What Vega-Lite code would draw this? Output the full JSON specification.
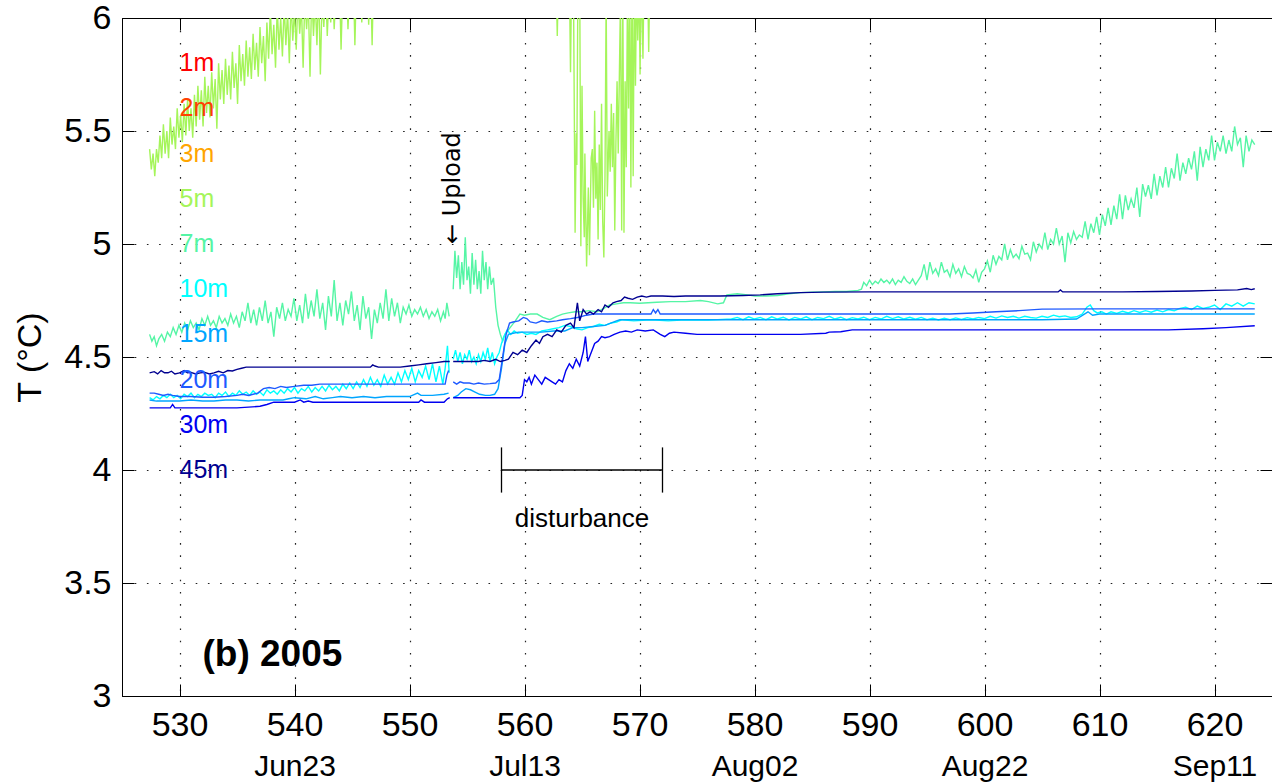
{
  "$schema": "https://vega.github.io/schema/vega-lite/v6.json",
  "width": 1150,
  "height": 678,
  "autosize": {"type": "none"},
  "padding": {"left": 122, "top": 18, "right": 0, "bottom": 86},
  "background": "white",
  "config": {
    "font": "Liberation Sans",
    "view": {"stroke": "black", "strokeWidth": 1}
  },
  "datasets": {
    "m5": [
      {"day":527.4,"temp":5.42},{"day":527.55,"temp":5.33},{"day":527.7,"temp":5.40},{"day":527.85,"temp":5.30},{"day":528.0,"temp":5.42},{"day":528.15,"temp":5.36},{"day":528.3,"temp":5.48},{"day":528.45,"temp":5.38},{"day":528.6,"temp":5.53},{"day":528.75,"temp":5.40},{"day":528.9,"temp":5.50},{"day":529.05,"temp":5.38},{"day":529.2,"temp":5.56},{"day":529.35,"temp":5.44},{"day":529.5,"temp":5.52},{"day":529.65,"temp":5.42},{"day":529.8,"temp":5.60},{"day":529.95,"temp":5.47},{"day":530.1,"temp":5.57},{"day":530.25,"temp":5.45},{"day":530.4,"temp":5.62},{"day":530.55,"temp":5.48},{"day":530.7,"temp":5.64},{"day":530.85,"temp":5.50},{"day":531.0,"temp":5.60},{"day":531.15,"temp":5.47},{"day":531.3,"temp":5.66},{"day":531.45,"temp":5.52},{"day":531.6,"temp":5.70},{"day":531.75,"temp":5.55},{"day":531.9,"temp":5.68},{"day":532.05,"temp":5.52},{"day":532.2,"temp":5.74},{"day":532.35,"temp":5.58},{"day":532.5,"temp":5.70},{"day":532.65,"temp":5.56},{"day":532.8,"temp":5.76},{"day":532.95,"temp":5.60},{"day":533.1,"temp":5.73},{"day":533.25,"temp":5.51},{"day":533.4,"temp":5.80},{"day":533.55,"temp":5.64},{"day":533.7,"temp":5.77},{"day":533.85,"temp":5.62},{"day":534.0,"temp":5.82},{"day":534.15,"temp":5.66},{"day":534.3,"temp":5.79},{"day":534.45,"temp":5.64},{"day":534.6,"temp":5.85},{"day":534.75,"temp":5.69},{"day":534.9,"temp":5.80},{"day":535.05,"temp":5.62},{"day":535.2,"temp":5.88},{"day":535.35,"temp":5.72},{"day":535.5,"temp":5.84},{"day":535.65,"temp":5.70},{"day":535.8,"temp":5.90},{"day":535.95,"temp":5.74},{"day":536.1,"temp":5.87},{"day":536.25,"temp":5.73},{"day":536.4,"temp":5.93},{"day":536.55,"temp":5.77},{"day":536.7,"temp":5.89},{"day":536.85,"temp":5.74},{"day":537.0,"temp":5.96},{"day":537.15,"temp":5.80},{"day":537.3,"temp":5.92},{"day":537.45,"temp":5.72},{"day":537.6,"temp":5.98},{"day":537.75,"temp":5.82},{"day":537.9,"temp":6.04},{"day":538.05,"temp":5.84},{"day":538.2,"temp":5.97},{"day":538.35,"temp":5.78},{"day":538.5,"temp":6.05},{"day":538.65,"temp":5.86},{"day":538.8,"temp":6.0},{"day":538.95,"temp":5.83},{"day":539.1,"temp":6.06},{"day":539.25,"temp":5.88},{"day":539.4,"temp":6.03},{"day":539.55,"temp":5.80},{"day":539.7,"temp":6.08},{"day":539.85,"temp":5.90},{"day":540.0,"temp":6.04},{"day":540.15,"temp":5.86},{"day":540.3,"temp":6.1},{"day":540.45,"temp":5.93},{"day":540.6,"temp":6.06},{"day":540.75,"temp":5.78},{"day":540.9,"temp":6.1},{"day":541.05,"temp":5.95},{"day":541.2,"temp":6.08},{"day":541.35,"temp":5.74},{"day":541.5,"temp":6.12},{"day":541.65,"temp":5.92},{"day":541.8,"temp":6.08},{"day":541.95,"temp":5.88},{"day":542.1,"temp":6.14},{"day":542.25,"temp":5.75},{"day":542.4,"temp":6.1},{"day":542.55,"temp":5.96},{"day":542.7,"temp":6.15},{"day":542.85,"temp":5.92},{"day":543.0,"temp":6.12},{"day":543.15,"temp":5.98},{"day":543.3,"temp":6.16},{"day":543.45,"temp":5.95},{"day":543.6,"temp":6.12},{"day":543.75,"temp":6.0},{"day":543.9,"temp":6.18},{"day":544.05,"temp":5.86},{"day":544.2,"temp":6.15},{"day":544.35,"temp":6.02},{"day":544.5,"temp":6.2},{"day":544.65,"temp":5.95},{"day":544.8,"temp":6.16},{"day":544.95,"temp":6.04},{"day":545.1,"temp":6.22},{"day":545.25,"temp":5.88},{"day":545.4,"temp":6.18},{"day":545.55,"temp":6.05},{"day":545.7,"temp":6.24},{"day":545.85,"temp":5.98},{"day":546.0,"temp":6.2},{"day":546.15,"temp":6.08},{"day":546.3,"temp":6.26},{"day":546.45,"temp":5.97},{"day":546.6,"temp":6.22},{"day":546.75,"temp":5.88},{"day":546.9,"temp":6.25},{"day":547.05,"temp":6.1},{"day":547.2,"temp":6.3},{"day":548.0,"temp":6.4},
      {"day":562.7,"temp":6.3},{"day":562.85,"temp":5.92},{"day":563.0,"temp":6.3},{"day":563.9,"temp":6.2},{"day":564.0,"temp":5.76},{"day":564.1,"temp":6.2},{"day":564.25,"temp":6.2},{"day":564.4,"temp":5.05},{"day":564.5,"temp":5.49},{"day":564.55,"temp":5.35},{"day":564.65,"temp":6.2},{"day":564.8,"temp":6.2},{"day":564.9,"temp":4.99},{"day":565.0,"temp":5.7},{"day":565.1,"temp":5.2},{"day":565.2,"temp":5.03},{"day":565.25,"temp":5.40},{"day":565.4,"temp":4.9},{"day":565.55,"temp":5.25},{"day":565.65,"temp":4.95},{"day":565.8,"temp":5.38},{"day":565.9,"temp":5.42},{"day":566.0,"temp":5.16},{"day":566.1,"temp":5.59},{"day":566.2,"temp":5.2},{"day":566.3,"temp":5.36},{"day":566.4,"temp":5.02},{"day":566.5,"temp":5.44},{"day":566.6,"temp":5.15},{"day":566.7,"temp":5.62},{"day":566.8,"temp":5.1},{"day":566.9,"temp":4.94},{"day":567.0,"temp":5.3},{"day":567.1,"temp":6.1},{"day":567.2,"temp":5.21},{"day":567.35,"temp":5.5},{"day":567.45,"temp":5.32},{"day":567.55,"temp":5.62},{"day":567.65,"temp":5.34},{"day":567.75,"temp":5.58},{"day":567.85,"temp":5.06},{"day":567.95,"temp":5.45},{"day":568.05,"temp":5.72},{"day":568.15,"temp":5.4},{"day":568.25,"temp":5.75},{"day":568.35,"temp":6.1},{"day":568.45,"temp":5.06},{"day":568.55,"temp":6.1},{"day":568.65,"temp":5.05},{"day":568.75,"temp":5.72},{"day":568.85,"temp":5.34},{"day":568.95,"temp":6.1},{"day":569.05,"temp":5.6},{"day":569.15,"temp":6.2},{"day":569.25,"temp":5.25},{"day":569.35,"temp":6.2},{"day":569.45,"temp":5.3},{"day":569.55,"temp":6.2},{"day":569.65,"temp":5.7},{"day":569.75,"temp":6.2},{"day":569.85,"temp":5.9},{"day":569.95,"temp":6.2},{"day":570.05,"temp":5.75},{"day":570.15,"temp":6.2},{"day":570.3,"temp":5.82},{"day":570.4,"temp":6.2},{"day":570.7,"temp":6.2},{"day":570.8,"temp":5.85},{"day":570.9,"temp":6.2},{"day":571.2,"temp":6.3}
    ],
    "m7": [
      {"day":527.4,"temp":4.60},{"day":527.6,"temp":4.57},{"day":527.8,"temp":4.59},{"day":528.0,"temp":4.55},{"day":528.2,"temp":4.58},{"day":528.45,"temp":4.60},{"day":528.7,"temp":4.57},{"day":528.95,"temp":4.61},{"day":529.2,"temp":4.59},{"day":529.45,"temp":4.63},{"day":529.7,"temp":4.60},{"day":529.95,"temp":4.64},{"day":530.2,"temp":4.61},{"day":530.45,"temp":4.65},{"day":530.7,"temp":4.62},{"day":530.95,"temp":4.66},{"day":531.2,"temp":4.63},{"day":531.45,"temp":4.65},{"day":531.7,"temp":4.62},{"day":531.95,"temp":4.67},{"day":532.2,"temp":4.64},{"day":532.45,"temp":4.68},{"day":532.7,"temp":4.64},{"day":532.95,"temp":4.66},{"day":533.2,"temp":4.63},{"day":533.45,"temp":4.68},{"day":533.7,"temp":4.65},{"day":533.95,"temp":4.67},{"day":534.2,"temp":4.64},{"day":534.45,"temp":4.69},{"day":534.7,"temp":4.65},{"day":534.95,"temp":4.68},{"day":535.2,"temp":4.63},{"day":535.45,"temp":4.70},{"day":535.7,"temp":4.66},{"day":535.95,"temp":4.74},{"day":536.2,"temp":4.65},{"day":536.45,"temp":4.71},{"day":536.7,"temp":4.64},{"day":536.95,"temp":4.72},{"day":537.2,"temp":4.66},{"day":537.45,"temp":4.75},{"day":537.7,"temp":4.65},{"day":537.95,"temp":4.70},{"day":538.2,"temp":4.59},{"day":538.45,"temp":4.72},{"day":538.7,"temp":4.67},{"day":538.95,"temp":4.74},{"day":539.2,"temp":4.66},{"day":539.45,"temp":4.71},{"day":539.7,"temp":4.68},{"day":539.95,"temp":4.76},{"day":540.2,"temp":4.66},{"day":540.45,"temp":4.73},{"day":540.7,"temp":4.65},{"day":540.95,"temp":4.78},{"day":541.2,"temp":4.67},{"day":541.45,"temp":4.75},{"day":541.7,"temp":4.68},{"day":541.95,"temp":4.80},{"day":542.2,"temp":4.67},{"day":542.45,"temp":4.74},{"day":542.7,"temp":4.62},{"day":542.95,"temp":4.77},{"day":543.2,"temp":4.68},{"day":543.45,"temp":4.84},{"day":543.7,"temp":4.66},{"day":543.95,"temp":4.74},{"day":544.2,"temp":4.64},{"day":544.45,"temp":4.75},{"day":544.7,"temp":4.69},{"day":544.95,"temp":4.79},{"day":545.2,"temp":4.66},{"day":545.45,"temp":4.73},{"day":545.7,"temp":4.62},{"day":545.95,"temp":4.77},{"day":546.2,"temp":4.67},{"day":546.45,"temp":4.72},{"day":546.7,"temp":4.58},{"day":546.95,"temp":4.71},{"day":547.2,"temp":4.65},{"day":547.45,"temp":4.74},{"day":547.7,"temp":4.67},{"day":547.95,"temp":4.80},{"day":548.2,"temp":4.66},{"day":548.45,"temp":4.76},{"day":548.7,"temp":4.68},{"day":548.95,"temp":4.74},{"day":549.2,"temp":4.65},{"day":549.45,"temp":4.72},{"day":549.7,"temp":4.69},{"day":549.95,"temp":4.73},{"day":550.2,"temp":4.68},{"day":550.45,"temp":4.71},{"day":550.7,"temp":4.69},{"day":550.95,"temp":4.72},{"day":551.2,"temp":4.68},{"day":551.45,"temp":4.71},{"day":551.7,"temp":4.67},{"day":551.95,"temp":4.70},{"day":552.2,"temp":4.68},{"day":552.45,"temp":4.71},{"day":552.7,"temp":4.66},{"day":552.95,"temp":4.70},{"day":553.1,"temp":4.67},{"day":553.25,"temp":4.74},{"day":553.45,"temp":4.68},
      {"day":553.62,"temp":null},
      {"day":553.8,"temp":4.80},{"day":553.95,"temp":4.97},{"day":554.1,"temp":4.85},{"day":554.25,"temp":4.95},{"day":554.4,"temp":4.80},{"day":554.55,"temp":4.92},{"day":554.7,"temp":4.82},{"day":554.85,"temp":5.03},{"day":555.0,"temp":4.84},{"day":555.15,"temp":4.90},{"day":555.3,"temp":4.78},{"day":555.45,"temp":4.96},{"day":555.6,"temp":4.82},{"day":555.75,"temp":4.93},{"day":555.9,"temp":4.80},{"day":556.05,"temp":4.88},{"day":556.2,"temp":4.78},{"day":556.35,"temp":4.97},{"day":556.5,"temp":4.84},{"day":556.65,"temp":4.92},{"day":556.8,"temp":4.80},{"day":556.95,"temp":4.90},{"day":557.1,"temp":4.82},{"day":557.3,"temp":4.85},{"day":557.5,"temp":4.72},{"day":557.7,"temp":4.64},{"day":557.9,"temp":4.60},{"day":558.1,"temp":4.57},{"day":558.3,"temp":4.60},{"day":558.6,"temp":4.62},{"day":558.9,"temp":4.64},{"day":559.2,"temp":4.66},{"day":559.6,"temp":4.69},{"day":560.0,"temp":4.685},{"day":560.5,"temp":4.69},{"day":561.1,"temp":4.69},{"day":561.6,"temp":4.675},{"day":562.2,"temp":4.665},{"day":562.8,"temp":4.68},{"day":563.3,"temp":4.69},{"day":563.8,"temp":4.695},{"day":564.4,"temp":4.70},{"day":565.0,"temp":4.70},{"day":565.6,"temp":4.705},{"day":566.3,"temp":4.70},{"day":566.9,"temp":4.715},{"day":567.4,"temp":4.73},{"day":568.0,"temp":4.735},{"day":568.6,"temp":4.74},{"day":569.2,"temp":4.74},{"day":570.0,"temp":4.738},{"day":571.5,"temp":4.742},{"day":572.7,"temp":4.745},{"day":574.0,"temp":4.745},{"day":575.3,"temp":4.75},{"day":576.0,"temp":4.745},{"day":576.8,"temp":4.735},{"day":577.3,"temp":4.74},{"day":577.6,"temp":4.775},{"day":578.5,"temp":4.78},{"day":579.4,"temp":4.775},{"day":580.0,"temp":4.77},{"day":581.0,"temp":4.77},{"day":582.0,"temp":4.772},{"day":583.0,"temp":4.78},{"day":584.0,"temp":4.785},{"day":585.0,"temp":4.787},{"day":586.0,"temp":4.788},{"day":587.0,"temp":4.79},{"day":588.0,"temp":4.79},{"day":589.0,"temp":4.795},
      {"day":589.3,"temp":4.80},{"day":589.5,"temp":4.83},{"day":589.75,"temp":4.815},{"day":590.0,"temp":4.84},{"day":590.25,"temp":4.82},{"day":590.5,"temp":4.835},{"day":590.75,"temp":4.825},{"day":591.0,"temp":4.845},{"day":591.25,"temp":4.83},{"day":591.5,"temp":4.84},{"day":591.75,"temp":4.825},{"day":592.0,"temp":4.845},{"day":592.25,"temp":4.82},{"day":592.5,"temp":4.84},{"day":592.75,"temp":4.83},{"day":593.0,"temp":4.855},{"day":593.25,"temp":4.835},{"day":593.5,"temp":4.825},{"day":593.75,"temp":4.845},{"day":594.0,"temp":4.82},{"day":594.25,"temp":4.84},{"day":594.5,"temp":4.86},{"day":594.75,"temp":4.91},{"day":595.0,"temp":4.84},{"day":595.25,"temp":4.92},{"day":595.5,"temp":4.87},{"day":595.75,"temp":4.89},{"day":596.0,"temp":4.86},{"day":596.25,"temp":4.92},{"day":596.5,"temp":4.875},{"day":596.75,"temp":4.885},{"day":597.0,"temp":4.855},{"day":597.25,"temp":4.91},{"day":597.5,"temp":4.87},{"day":597.75,"temp":4.89},{"day":598.0,"temp":4.855},{"day":598.25,"temp":4.90},{"day":598.5,"temp":4.87},{"day":598.75,"temp":4.865},{"day":599.0,"temp":4.85},{"day":599.25,"temp":4.885},{"day":599.5,"temp":4.83},{"day":599.75,"temp":4.875},{"day":600.0,"temp":4.89},{"day":600.25,"temp":4.925},{"day":600.5,"temp":4.875},{"day":600.75,"temp":4.95},{"day":601.0,"temp":4.91},{"day":601.25,"temp":4.945},{"day":601.5,"temp":4.93},{"day":601.75,"temp":5.0},{"day":602.0,"temp":4.93},{"day":602.25,"temp":4.975},{"day":602.5,"temp":4.94},{"day":602.75,"temp":4.955},{"day":603.0,"temp":4.935},{"day":603.25,"temp":4.99},{"day":603.5,"temp":4.955},{"day":603.75,"temp":4.96},{"day":604.0,"temp":4.93},{"day":604.25,"temp":5.01},{"day":604.5,"temp":4.965},{"day":604.75,"temp":5.0},{"day":605.0,"temp":4.98},{"day":605.25,"temp":5.05},{"day":605.5,"temp":4.975},{"day":605.75,"temp":5.02},{"day":606.0,"temp":5.0},{"day":606.25,"temp":5.07},{"day":606.5,"temp":5.0},{"day":606.75,"temp":5.035},{"day":607.0,"temp":4.92},{"day":607.25,"temp":5.05},{"day":607.5,"temp":5.005},{"day":607.75,"temp":5.055},{"day":608.0,"temp":5.02},{"day":608.25,"temp":5.04},{"day":608.5,"temp":5.03},{"day":608.75,"temp":5.1},{"day":609.0,"temp":5.02},{"day":609.25,"temp":5.09},{"day":609.5,"temp":5.05},{"day":609.75,"temp":5.12},{"day":610.0,"temp":5.04},{"day":610.25,"temp":5.13},{"day":610.5,"temp":5.08},{"day":610.75,"temp":5.16},{"day":611.0,"temp":5.085},{"day":611.25,"temp":5.17},{"day":611.5,"temp":5.11},{"day":611.75,"temp":5.22},{"day":612.0,"temp":5.11},{"day":612.25,"temp":5.215},{"day":612.5,"temp":5.15},{"day":612.75,"temp":5.2},{"day":613.0,"temp":5.16},{"day":613.25,"temp":5.25},{"day":613.5,"temp":5.12},{"day":613.75,"temp":5.265},{"day":614.0,"temp":5.21},{"day":614.25,"temp":5.26},{"day":614.5,"temp":5.2},{"day":614.75,"temp":5.31},{"day":615.0,"temp":5.215},{"day":615.25,"temp":5.30},{"day":615.5,"temp":5.25},{"day":615.75,"temp":5.34},{"day":616.0,"temp":5.25},{"day":616.25,"temp":5.335},{"day":616.5,"temp":5.29},{"day":616.75,"temp":5.40},{"day":617.0,"temp":5.28},{"day":617.25,"temp":5.36},{"day":617.5,"temp":5.31},{"day":617.75,"temp":5.38},{"day":618.0,"temp":5.33},{"day":618.25,"temp":5.41},{"day":618.5,"temp":5.28},{"day":618.75,"temp":5.43},{"day":619.0,"temp":5.34},{"day":619.25,"temp":5.42},{"day":619.5,"temp":5.37},{"day":619.75,"temp":5.48},{"day":620.0,"temp":5.37},{"day":620.25,"temp":5.45},{"day":620.5,"temp":5.41},{"day":620.75,"temp":5.48},{"day":621.0,"temp":5.40},{"day":621.25,"temp":5.46},{"day":621.5,"temp":5.41},{"day":621.75,"temp":5.52},{"day":622.0,"temp":5.44},{"day":622.25,"temp":5.47},{"day":622.5,"temp":5.34},{"day":622.75,"temp":5.48},{"day":623.0,"temp":5.41},{"day":623.25,"temp":5.46},{"day":623.5,"temp":5.44}
    ],
    "m10": [
      {"day":527.4,"temp":4.32},{"day":527.7,"temp":4.31},{"day":528.0,"temp":4.325},{"day":528.3,"temp":4.315},{"day":528.6,"temp":4.33},{"day":528.9,"temp":4.32},{"day":529.2,"temp":4.335},{"day":529.5,"temp":4.32},{"day":529.8,"temp":4.33},{"day":530.1,"temp":4.315},{"day":530.4,"temp":4.335},{"day":530.7,"temp":4.325},{"day":531.0,"temp":4.34},{"day":531.3,"temp":4.32},{"day":531.6,"temp":4.335},{"day":531.9,"temp":4.325},{"day":532.2,"temp":4.34},{"day":532.5,"temp":4.33},{"day":532.8,"temp":4.335},{"day":533.1,"temp":4.32},{"day":533.4,"temp":4.34},{"day":533.7,"temp":4.33},{"day":534.0,"temp":4.345},{"day":534.3,"temp":4.325},{"day":534.6,"temp":4.34},{"day":534.9,"temp":4.33},{"day":535.2,"temp":4.35},{"day":535.5,"temp":4.335},{"day":535.8,"temp":4.345},{"day":536.1,"temp":4.33},{"day":536.4,"temp":4.35},{"day":536.7,"temp":4.335},{"day":537.0,"temp":4.345},{"day":537.3,"temp":4.33},{"day":537.6,"temp":4.355},{"day":537.9,"temp":4.34},{"day":538.2,"temp":4.35},{"day":538.5,"temp":4.335},{"day":538.8,"temp":4.355},{"day":539.1,"temp":4.34},{"day":539.4,"temp":4.36},{"day":539.7,"temp":4.345},{"day":540.0,"temp":4.365},{"day":540.3,"temp":4.34},{"day":540.6,"temp":4.36},{"day":540.9,"temp":4.35},{"day":541.2,"temp":4.37},{"day":541.5,"temp":4.345},{"day":541.8,"temp":4.365},{"day":542.1,"temp":4.35},{"day":542.4,"temp":4.37},{"day":542.7,"temp":4.35},{"day":543.0,"temp":4.375},{"day":543.3,"temp":4.355},{"day":543.6,"temp":4.37},{"day":543.9,"temp":4.35},{"day":544.2,"temp":4.38},{"day":544.5,"temp":4.36},{"day":544.8,"temp":4.385},{"day":545.1,"temp":4.36},{"day":545.4,"temp":4.39},{"day":545.7,"temp":4.365},{"day":546.0,"temp":4.40},{"day":546.3,"temp":4.37},{"day":546.6,"temp":4.41},{"day":546.9,"temp":4.375},{"day":547.2,"temp":4.40},{"day":547.5,"temp":4.37},{"day":547.8,"temp":4.42},{"day":548.1,"temp":4.38},{"day":548.4,"temp":4.41},{"day":548.7,"temp":4.38},{"day":549.0,"temp":4.43},{"day":549.3,"temp":4.39},{"day":549.6,"temp":4.44},{"day":549.9,"temp":4.40},{"day":550.2,"temp":4.45},{"day":550.5,"temp":4.39},{"day":550.8,"temp":4.44},{"day":551.1,"temp":4.41},{"day":551.4,"temp":4.46},{"day":551.7,"temp":4.40},{"day":552.0,"temp":4.47},{"day":552.3,"temp":4.39},{"day":552.6,"temp":4.46},{"day":552.9,"temp":4.38},{"day":553.1,"temp":4.45},{"day":553.3,"temp":4.55},{"day":553.45,"temp":4.43},
      {"day":553.62,"temp":null},
      {"day":553.8,"temp":4.49},{"day":554.0,"temp":4.53},{"day":554.2,"temp":4.48},{"day":554.4,"temp":4.52},{"day":554.6,"temp":4.47},{"day":554.8,"temp":4.51},{"day":555.0,"temp":4.49},{"day":555.2,"temp":4.53},{"day":555.4,"temp":4.48},{"day":555.6,"temp":4.50},{"day":555.8,"temp":4.47},{"day":556.0,"temp":4.51},{"day":556.2,"temp":4.48},{"day":556.4,"temp":4.52},{"day":556.6,"temp":4.49},{"day":556.8,"temp":4.54},{"day":557.0,"temp":4.48},{"day":557.2,"temp":4.52},{"day":557.4,"temp":4.47},{"day":557.6,"temp":4.50},{"day":557.8,"temp":4.52},{"day":558.0,"temp":4.56},{"day":558.2,"temp":4.59},{"day":558.5,"temp":4.62},{"day":558.8,"temp":4.60},{"day":559.1,"temp":4.615},{"day":559.4,"temp":4.605},{"day":559.8,"temp":4.61},{"day":560.2,"temp":4.60},{"day":560.6,"temp":4.605},{"day":561.0,"temp":4.60},{"day":561.5,"temp":4.615},{"day":562.0,"temp":4.62},{"day":562.5,"temp":4.625},{"day":563.0,"temp":4.63},{"day":563.5,"temp":4.64},{"day":564.0,"temp":4.635},{"day":564.5,"temp":4.625},{"day":565.0,"temp":4.62},{"day":565.5,"temp":4.63},{"day":566.0,"temp":4.635},{"day":566.5,"temp":4.645},{"day":567.0,"temp":4.64},{"day":567.5,"temp":4.65},{"day":568.0,"temp":4.655},{"day":568.5,"temp":4.665},{"day":569.5,"temp":4.66},{"day":571.0,"temp":4.665},{"day":572.5,"temp":4.66},{"day":574.0,"temp":4.665},{"day":576.0,"temp":4.663},{"day":578.0,"temp":4.668},{"day":578.5,"temp":4.675},{"day":579.0,"temp":4.665},{"day":579.5,"temp":4.678},{"day":580.0,"temp":4.668},{"day":580.5,"temp":4.675},{"day":581.0,"temp":4.665},{"day":581.5,"temp":4.678},{"day":582.0,"temp":4.668},{"day":582.5,"temp":4.676},{"day":583.0,"temp":4.664},{"day":583.5,"temp":4.675},{"day":584.0,"temp":4.668},{"day":584.5,"temp":4.678},{"day":585.0,"temp":4.665},{"day":585.5,"temp":4.675},{"day":586.0,"temp":4.67},{"day":586.5,"temp":4.68},{"day":587.0,"temp":4.668},{"day":587.5,"temp":4.676},{"day":588.0,"temp":4.665},{"day":588.5,"temp":4.674},{"day":589.0,"temp":4.668},{"day":589.5,"temp":4.676},{"day":590.0,"temp":4.665},{"day":590.5,"temp":4.675},{"day":591.0,"temp":4.668},{"day":591.5,"temp":4.68},{"day":592.0,"temp":4.67},{"day":592.5,"temp":4.678},{"day":593.0,"temp":4.668},{"day":593.5,"temp":4.676},{"day":594.0,"temp":4.667},{"day":594.5,"temp":4.675},{"day":595.0,"temp":4.665},{"day":595.5,"temp":4.672},{"day":596.0,"temp":4.664},{"day":596.5,"temp":4.672},{"day":597.0,"temp":4.665},{"day":597.5,"temp":4.673},{"day":598.0,"temp":4.666},{"day":598.5,"temp":4.674},{"day":599.0,"temp":4.668},{"day":599.5,"temp":4.675},{"day":600.0,"temp":4.67},{"day":600.5,"temp":4.68},{"day":601.0,"temp":4.672},{"day":601.5,"temp":4.682},{"day":602.0,"temp":4.675},{"day":602.5,"temp":4.68},{"day":603.0,"temp":4.672},{"day":603.5,"temp":4.68},{"day":604.0,"temp":4.675},{"day":604.5,"temp":4.672},{"day":605.0,"temp":4.68},{"day":605.5,"temp":4.675},{"day":606.0,"temp":4.685},{"day":606.5,"temp":4.678},{"day":607.0,"temp":4.682},{"day":607.5,"temp":4.675},{"day":608.0,"temp":4.678},{"day":608.5,"temp":4.69},{"day":608.9,"temp":4.72},{"day":609.2,"temp":4.73},{"day":609.5,"temp":4.705},{"day":609.8,"temp":4.695},{"day":610.2,"temp":4.70},{"day":610.6,"temp":4.69},{"day":611.0,"temp":4.70},{"day":611.5,"temp":4.693},{"day":612.0,"temp":4.702},{"day":612.5,"temp":4.695},{"day":613.0,"temp":4.705},{"day":613.5,"temp":4.697},{"day":614.0,"temp":4.705},{"day":614.5,"temp":4.698},{"day":615.0,"temp":4.708},{"day":615.5,"temp":4.70},{"day":616.0,"temp":4.71},{"day":616.5,"temp":4.705},{"day":617.0,"temp":4.715},{"day":617.5,"temp":4.72},{"day":618.0,"temp":4.71},{"day":618.5,"temp":4.725},{"day":619.0,"temp":4.715},{"day":619.5,"temp":4.72},{"day":620.0,"temp":4.73},{"day":620.5,"temp":4.71},{"day":621.0,"temp":4.735},{"day":621.5,"temp":4.725},{"day":622.0,"temp":4.74},{"day":622.5,"temp":4.725},{"day":623.0,"temp":4.74},{"day":623.5,"temp":4.735}
    ],
    "m15": [
      {"day":527.4,"temp":4.31},{"day":528.0,"temp":4.305},{"day":529.0,"temp":4.305},{"day":530.0,"temp":4.305},{"day":531.0,"temp":4.31},{"day":532.0,"temp":4.305},{"day":533.0,"temp":4.305},{"day":534.0,"temp":4.31},{"day":535.0,"temp":4.31},{"day":536.0,"temp":4.305},{"day":537.0,"temp":4.31},{"day":538.0,"temp":4.31},{"day":539.0,"temp":4.31},{"day":539.5,"temp":4.315},{"day":540.0,"temp":4.32},{"day":541.0,"temp":4.315},{"day":541.8,"temp":4.325},{"day":542.5,"temp":4.315},{"day":543.3,"temp":4.32},{"day":544.0,"temp":4.325},{"day":545.0,"temp":4.32},{"day":546.0,"temp":4.325},{"day":547.0,"temp":4.32},{"day":548.0,"temp":4.325},{"day":549.0,"temp":4.325},{"day":550.0,"temp":4.325},{"day":550.7,"temp":4.34},{"day":551.0,"temp":4.33},{"day":552.0,"temp":4.33},{"day":553.0,"temp":4.335},{"day":553.4,"temp":4.34},
      {"day":553.62,"temp":null},
      {"day":553.8,"temp":4.32},{"day":554.2,"temp":4.33},{"day":554.5,"temp":4.345},{"day":554.9,"temp":4.36},{"day":555.3,"temp":4.355},{"day":555.7,"temp":4.345},{"day":556.1,"temp":4.335},{"day":556.6,"temp":4.33},{"day":557.0,"temp":4.33},{"day":557.4,"temp":4.335},{"day":557.7,"temp":4.36},{"day":558.0,"temp":4.45},{"day":558.3,"temp":4.56},{"day":558.6,"temp":4.60},{"day":559.0,"temp":4.605},{"day":559.5,"temp":4.61},{"day":560.5,"temp":4.61},{"day":561.5,"temp":4.61},{"day":562.5,"temp":4.615},{"day":563.5,"temp":4.615},{"day":564.2,"temp":4.63},{"day":565.0,"temp":4.63},{"day":566.0,"temp":4.635},{"day":567.0,"temp":4.64},{"day":567.5,"temp":4.65},{"day":568.0,"temp":4.66},{"day":568.3,"temp":4.665},{"day":575.0,"temp":4.665},{"day":590.0,"temp":4.665},{"day":605.0,"temp":4.665},{"day":608.0,"temp":4.668},{"day":609.0,"temp":4.70},{"day":609.4,"temp":4.685},{"day":610.0,"temp":4.69},{"day":623.5,"temp":4.69}
    ],
    "m20": [
      {"day":527.4,"temp":4.34},{"day":527.8,"temp":4.34},{"day":528.2,"temp":4.335},{"day":528.6,"temp":4.33},{"day":529.0,"temp":4.335},{"day":529.4,"temp":4.33},{"day":530.0,"temp":4.325},{"day":531.0,"temp":4.325},{"day":532.0,"temp":4.322},{"day":533.0,"temp":4.322},{"day":534.0,"temp":4.325},{"day":535.0,"temp":4.33},{"day":535.5,"temp":4.335},{"day":536.0,"temp":4.33},{"day":536.8,"temp":4.34},{"day":537.3,"temp":4.36},{"day":537.8,"temp":4.365},{"day":538.3,"temp":4.36},{"day":538.8,"temp":4.37},{"day":539.3,"temp":4.365},{"day":540.0,"temp":4.37},{"day":540.8,"temp":4.375},{"day":541.5,"temp":4.375},{"day":542.2,"temp":4.38},{"day":545.0,"temp":4.38},{"day":550.0,"temp":4.38},{"day":553.1,"temp":4.38},{"day":553.25,"temp":4.42},{"day":553.4,"temp":4.44},
      {"day":553.62,"temp":null},
      {"day":553.8,"temp":4.39},{"day":554.1,"temp":4.38},{"day":554.4,"temp":4.39},{"day":554.7,"temp":4.385},{"day":555.2,"temp":4.385},{"day":555.6,"temp":4.38},{"day":556.0,"temp":4.385},{"day":556.5,"temp":4.38},{"day":557.0,"temp":4.382},{"day":557.5,"temp":4.385},{"day":557.8,"temp":4.40},{"day":558.1,"temp":4.50},{"day":558.4,"temp":4.60},{"day":558.7,"temp":4.65},{"day":559.0,"temp":4.655},{"day":559.5,"temp":4.66},{"day":559.9,"temp":4.675},{"day":560.2,"temp":4.67},{"day":560.5,"temp":4.655},{"day":561.0,"temp":4.65},{"day":561.5,"temp":4.66},{"day":562.0,"temp":4.655},{"day":562.8,"temp":4.66},{"day":563.3,"temp":4.665},{"day":564.0,"temp":4.67},{"day":564.6,"temp":4.675},{"day":565.4,"temp":4.685},{"day":566.0,"temp":4.69},{"day":566.8,"temp":4.69},{"day":571.0,"temp":4.69},{"day":571.2,"temp":4.71},{"day":571.4,"temp":4.695},{"day":571.6,"temp":4.71},{"day":571.8,"temp":4.69},{"day":580.0,"temp":4.69},{"day":590.0,"temp":4.69},{"day":597.0,"temp":4.69},{"day":599.0,"temp":4.695},{"day":601.0,"temp":4.70},{"day":603.0,"temp":4.705},{"day":605.0,"temp":4.712},{"day":610.0,"temp":4.713},{"day":623.5,"temp":4.713}
    ],
    "m30": [
      {"day":527.4,"temp":4.275},{"day":529.2,"temp":4.275},{"day":529.4,"temp":4.29},{"day":529.6,"temp":4.275},{"day":535.0,"temp":4.275},{"day":536.0,"temp":4.278},{"day":537.0,"temp":4.282},{"day":537.6,"temp":4.29},{"day":538.2,"temp":4.30},{"day":539.0,"temp":4.30},{"day":540.0,"temp":4.30},{"day":540.5,"temp":4.31},{"day":540.8,"temp":4.30},{"day":541.2,"temp":4.305},{"day":541.6,"temp":4.30},{"day":545.0,"temp":4.30},{"day":550.0,"temp":4.30},{"day":550.8,"temp":4.30},{"day":551.0,"temp":4.31},{"day":551.3,"temp":4.30},{"day":553.0,"temp":4.30},{"day":553.3,"temp":4.315},{"day":553.5,"temp":4.32},
      {"day":553.62,"temp":null},
      {"day":553.8,"temp":4.32},{"day":559.6,"temp":4.32},{"day":559.8,"temp":4.33},{"day":560.0,"temp":4.40},{"day":560.2,"temp":4.39},{"day":560.4,"temp":4.41},{"day":560.6,"temp":4.38},{"day":560.9,"temp":4.42},{"day":561.2,"temp":4.40},{"day":561.5,"temp":4.38},{"day":561.8,"temp":4.41},{"day":562.1,"temp":4.40},{"day":562.4,"temp":4.39},{"day":562.7,"temp":4.38},{"day":563.0,"temp":4.40},{"day":563.3,"temp":4.39},{"day":563.6,"temp":4.44},{"day":563.9,"temp":4.47},{"day":564.2,"temp":4.45},{"day":564.5,"temp":4.49},{"day":564.8,"temp":4.46},{"day":565.1,"temp":4.52},{"day":565.3,"temp":4.59},{"day":565.5,"temp":4.48},{"day":565.8,"temp":4.52},{"day":566.1,"temp":4.56},{"day":566.4,"temp":4.57},{"day":566.7,"temp":4.59},{"day":567.0,"temp":4.585},{"day":567.4,"temp":4.59},{"day":567.8,"temp":4.60},{"day":568.3,"temp":4.61},{"day":568.8,"temp":4.615},{"day":569.3,"temp":4.61},{"day":569.8,"temp":4.62},{"day":570.5,"temp":4.615},{"day":571.2,"temp":4.62},{"day":571.8,"temp":4.60},{"day":572.2,"temp":4.59},{"day":572.6,"temp":4.605},{"day":573.0,"temp":4.61},{"day":574.0,"temp":4.605},{"day":575.0,"temp":4.60},{"day":578.0,"temp":4.60},{"day":581.0,"temp":4.60},{"day":584.0,"temp":4.60},{"day":586.2,"temp":4.605},{"day":586.5,"temp":4.61},{"day":587.5,"temp":4.612},{"day":588.5,"temp":4.62},{"day":590.0,"temp":4.62},{"day":600.0,"temp":4.62},{"day":610.0,"temp":4.62},{"day":616.0,"temp":4.62},{"day":619.0,"temp":4.625},{"day":621.0,"temp":4.63},{"day":623.5,"temp":4.638}
    ],
    "m45": [
      {"day":527.4,"temp":4.43},{"day":527.8,"temp":4.435},{"day":528.1,"temp":4.425},{"day":528.4,"temp":4.44},{"day":528.7,"temp":4.43},{"day":529.0,"temp":4.43},{"day":529.3,"temp":4.437},{"day":529.6,"temp":4.425},{"day":530.0,"temp":4.43},{"day":530.4,"temp":4.44},{"day":530.7,"temp":4.43},{"day":531.0,"temp":4.432},{"day":531.4,"temp":4.425},{"day":531.8,"temp":4.43},{"day":532.2,"temp":4.432},{"day":532.6,"temp":4.425},{"day":533.0,"temp":4.43},{"day":533.4,"temp":4.437},{"day":533.8,"temp":4.43},{"day":534.2,"temp":4.44},{"day":534.6,"temp":4.438},{"day":535.0,"temp":4.445},{"day":535.4,"temp":4.45},{"day":535.8,"temp":4.455},{"day":536.5,"temp":4.455},{"day":540.0,"temp":4.455},{"day":544.0,"temp":4.455},{"day":546.6,"temp":4.455},{"day":546.8,"temp":4.465},{"day":547.0,"temp":4.46},{"day":547.3,"temp":4.455},{"day":549.2,"temp":4.455},{"day":550.0,"temp":4.46},{"day":550.8,"temp":4.465},{"day":551.5,"temp":4.47},{"day":552.3,"temp":4.475},{"day":553.0,"temp":4.48},{"day":553.5,"temp":4.48},
      {"day":553.62,"temp":null},
      {"day":553.8,"temp":4.48},{"day":555.0,"temp":4.48},{"day":556.0,"temp":4.48},{"day":556.5,"temp":4.485},{"day":557.0,"temp":4.48},{"day":557.5,"temp":4.49},{"day":557.9,"temp":4.48},{"day":558.3,"temp":4.485},{"day":558.6,"temp":4.49},{"day":559.0,"temp":4.52},{"day":559.4,"temp":4.51},{"day":559.8,"temp":4.53},{"day":560.2,"temp":4.52},{"day":560.6,"temp":4.55},{"day":561.0,"temp":4.575},{"day":561.3,"temp":4.56},{"day":561.6,"temp":4.59},{"day":562.0,"temp":4.60},{"day":562.4,"temp":4.59},{"day":562.8,"temp":4.62},{"day":563.2,"temp":4.61},{"day":563.6,"temp":4.64},{"day":564.0,"temp":4.65},{"day":564.3,"temp":4.63},{"day":564.6,"temp":4.74},{"day":564.8,"temp":4.66},{"day":565.1,"temp":4.71},{"day":565.4,"temp":4.69},{"day":565.7,"temp":4.70},{"day":566.0,"temp":4.69},{"day":566.4,"temp":4.71},{"day":566.7,"temp":4.70},{"day":567.0,"temp":4.73},{"day":567.3,"temp":4.72},{"day":567.7,"temp":4.74},{"day":568.0,"temp":4.745},{"day":568.4,"temp":4.75},{"day":568.7,"temp":4.765},{"day":569.0,"temp":4.76},{"day":569.4,"temp":4.755},{"day":569.8,"temp":4.765},{"day":570.2,"temp":4.77},{"day":570.6,"temp":4.765},{"day":571.0,"temp":4.77},{"day":572.0,"temp":4.77},{"day":573.0,"temp":4.768},{"day":574.0,"temp":4.77},{"day":575.0,"temp":4.77},{"day":577.0,"temp":4.77},{"day":579.0,"temp":4.772},{"day":580.5,"temp":4.775},{"day":582.0,"temp":4.78},{"day":584.0,"temp":4.785},{"day":586.0,"temp":4.787},{"day":590.0,"temp":4.788},{"day":600.0,"temp":4.788},{"day":606.4,"temp":4.788},{"day":606.6,"temp":4.797},{"day":606.8,"temp":4.788},{"day":612.0,"temp":4.788},{"day":615.0,"temp":4.79},{"day":618.0,"temp":4.792},{"day":620.0,"temp":4.795},{"day":622.0,"temp":4.797},{"day":622.8,"temp":4.803},{"day":623.2,"temp":4.798},{"day":623.5,"temp":4.802}
    ],
    "labels": [
      {"depth":"1m","day":530,"temp":5.8},
      {"depth":"2m","day":530,"temp":5.6},
      {"depth":"3m","day":530,"temp":5.4},
      {"depth":"5m","day":530,"temp":5.2},
      {"depth":"7m","day":530,"temp":5.0},
      {"depth":"10m","day":530,"temp":4.8},
      {"depth":"15m","day":530,"temp":4.6},
      {"depth":"20m","day":530,"temp":4.4},
      {"depth":"30m","day":530,"temp":4.2},
      {"depth":"45m","day":530,"temp":4.0}
    ]
  },
  "layer": [
    {
      "data": {"name": "m5"},
      "mark": {"type": "line", "clip": true, "strokeWidth": 1.4, "invalid": "break-paths-filter-domains"},
      "encoding": {
        "x": {
          "field": "day", "type": "quantitative",
          "scale": {"domain": [525, 625], "nice": false, "zero": false},
          "axis": {
            "orient": "bottom", "title": null,
            "values": [530, 540, 550, 560, 570, 580, 590, 600, 610, 620],
            "format": "d", "labelFontSize": 34, "labelColor": "black", "labelPadding": 24, "labelFlush": false,
            "tickSize": -12, "tickColor": "black", "domainColor": "black",
            "grid": true, "gridColor": "#222", "gridDash": [1.6, 10.6], "gridWidth": 1.2
          }
        },
        "y": {
          "field": "temp", "type": "quantitative",
          "scale": {"domain": [3, 6], "nice": false, "zero": false},
          "axis": {
            "orient": "left", "title": "T (°C)",
            "values": [3, 3.5, 4, 4.5, 5, 5.5, 6],
            "format": "~g", "labelFontSize": 34, "labelColor": "black", "labelPadding": 23, "labelFlush": false,
            "tickSize": -12, "tickColor": "black", "domainColor": "black",
            "grid": true, "gridColor": "#222", "gridDash": [1.6, 10.6], "gridWidth": 1.2,
            "titleFontSize": 34, "titleFontWeight": "normal", "titleColor": "black",
            "titleAngle": 270, "titleX": -92, "titleY": 339, "titleBaseline": "middle", "titleAlign": "center"
          }
        },
        "color": {
          "datum": "5m", "type": "nominal", "legend": null,
          "scale": {
            "domain": ["1m", "2m", "3m", "5m", "7m", "10m", "15m", "20m", "30m", "45m"],
            "range": ["#FF0000", "#FF4000", "#FFA500", "#A5F55A", "#55F5A5", "#00FFFF", "#00A5FF", "#1E5AFF", "#0000F0", "#000090"]
          }
        }
      }
    },
    {
      "data": {"name": "m7"},
      "mark": {"type": "line", "clip": true, "strokeWidth": 1.4, "invalid": "break-paths-filter-domains"},
      "encoding": {
        "x": {
          "field": "day", "type": "quantitative",
          "axis": {
            "orient": "top", "title": null, "labels": false,
            "values": [530, 540, 550, 560, 570, 580, 590, 600, 610, 620],
            "tickSize": -12, "tickColor": "black", "domainColor": "black", "grid": false
          }
        },
        "y": {
          "field": "temp", "type": "quantitative",
          "axis": {
            "orient": "right", "title": null, "labels": false,
            "values": [3, 3.5, 4, 4.5, 5, 5.5, 6],
            "tickSize": -12, "tickColor": "black", "domainColor": "black", "grid": false
          }
        },
        "color": {"datum": "7m", "type": "nominal"}
      }
    },
    {
      "data": {"name": "m10"},
      "mark": {"type": "line", "clip": true, "strokeWidth": 1.4, "invalid": "break-paths-filter-domains"},
      "encoding": {
        "x": {
          "field": "day", "type": "quantitative",
          "axis": {
            "orient": "bottom", "title": null,
            "values": [540, 560, 580, 600, 620],
            "labelExpr": "datum.value == 540 ? 'Jun23' : datum.value == 560 ? 'Jul13' : datum.value == 580 ? 'Aug02' : datum.value == 600 ? 'Aug22' : 'Sep11'",
            "labelFontSize": 30, "labelColor": "black", "labelPadding": 55, "labelFlush": false,
            "domain": false, "ticks": false, "grid": false
          }
        },
        "y": {"field": "temp", "type": "quantitative", "axis": null},
        "color": {"datum": "10m", "type": "nominal"}
      }
    },
    {
      "data": {"name": "m15"},
      "mark": {"type": "line", "clip": true, "strokeWidth": 1.4, "invalid": "break-paths-filter-domains"},
      "encoding": {
        "x": {"field": "day", "type": "quantitative", "axis": null},
        "y": {"field": "temp", "type": "quantitative", "axis": null},
        "color": {"datum": "15m", "type": "nominal"}
      }
    },
    {
      "data": {"name": "m20"},
      "mark": {"type": "line", "clip": true, "strokeWidth": 1.4, "invalid": "break-paths-filter-domains"},
      "encoding": {
        "x": {"field": "day", "type": "quantitative", "axis": null},
        "y": {"field": "temp", "type": "quantitative", "axis": null},
        "color": {"datum": "20m", "type": "nominal"}
      }
    },
    {
      "data": {"name": "m30"},
      "mark": {"type": "line", "clip": true, "strokeWidth": 1.4, "invalid": "break-paths-filter-domains"},
      "encoding": {
        "x": {"field": "day", "type": "quantitative", "axis": null},
        "y": {"field": "temp", "type": "quantitative", "axis": null},
        "color": {"datum": "30m", "type": "nominal"}
      }
    },
    {
      "data": {"name": "m45"},
      "mark": {"type": "line", "clip": true, "strokeWidth": 1.4, "invalid": "break-paths-filter-domains"},
      "encoding": {
        "x": {"field": "day", "type": "quantitative", "axis": null},
        "y": {"field": "temp", "type": "quantitative", "axis": null},
        "color": {"datum": "45m", "type": "nominal"}
      }
    },
    {
      "data": {"name": "labels"},
      "mark": {"type": "text", "align": "left", "baseline": "middle", "fontSize": 25},
      "encoding": {
        "x": {"field": "day", "type": "quantitative", "axis": null},
        "y": {"field": "temp", "type": "quantitative", "axis": null},
        "text": {"field": "depth"},
        "color": {"field": "depth", "type": "nominal"}
      }
    },
    {
      "data": {"values": [{"note": "← Upload", "day": 553.8, "temp": 5.0}]},
      "mark": {"type": "text", "align": "left", "baseline": "middle", "angle": 270, "font": "DejaVu Sans", "fontSize": 24, "color": "black"},
      "encoding": {
        "x": {"field": "day", "type": "quantitative", "axis": null},
        "y": {"field": "temp", "type": "quantitative", "axis": null},
        "text": {"field": "note"}
      }
    },
    {
      "data": {"values": [
        {"day": 558, "day2": 572, "temp": 4.0, "temp2": 4.0},
        {"day": 558, "day2": 558, "temp": 3.9, "temp2": 4.1},
        {"day": 572, "day2": 572, "temp": 3.9, "temp2": 4.1}
      ]},
      "mark": {"type": "rule", "color": "black", "strokeWidth": 1.3},
      "encoding": {
        "x": {"field": "day", "type": "quantitative", "axis": null},
        "x2": {"field": "day2"},
        "y": {"field": "temp", "type": "quantitative", "axis": null},
        "y2": {"field": "temp2"}
      }
    },
    {
      "data": {"values": [{"note": "disturbance", "day": 565, "temp": 3.75}]},
      "mark": {"type": "text", "align": "center", "baseline": "alphabetic", "fontSize": 26, "color": "black"},
      "encoding": {
        "x": {"field": "day", "type": "quantitative", "axis": null},
        "y": {"field": "temp", "type": "quantitative", "axis": null},
        "text": {"field": "note"}
      }
    },
    {
      "data": {"values": [{"note": "(b) 2005", "day": 532, "temp": 3.18}]},
      "mark": {"type": "text", "align": "left", "baseline": "middle", "fontSize": 37, "fontWeight": "bold", "color": "black"},
      "encoding": {
        "x": {"field": "day", "type": "quantitative", "axis": null},
        "y": {"field": "temp", "type": "quantitative", "axis": null},
        "text": {"field": "note"}
      }
    }
  ],
  "resolve": {"axis": {"x": "independent", "y": "independent"}}
}
